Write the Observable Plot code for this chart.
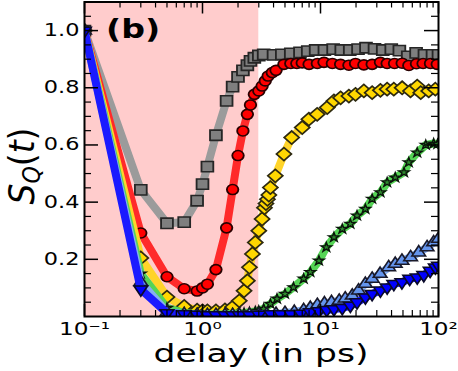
<!DOCTYPE html>
<html><head><meta charset="utf-8">
<script src="https://cdn.jsdelivr.net/npm/d3@7"></script>
<script src="https://cdn.jsdelivr.net/npm/@observablehq/plot@0.6"></script>
<style>html,body{margin:0;padding:0;background:#fff}svg{display:block}</style>
</head><body><div id="chart"></div>
<script>
// ---------- data ----------
const grayDelay = [0.1, 0.3, 0.5, 0.7, 0.9, 1.0, 1.1, 1.3, 1.6, 1.8, 2.0, 2.2, 2.4, 2.55, 2.75, 3.0, 3.3, 4.0, 4.7, 5.6, 6.7, 7.8, 9.1, 10.8, 12.8, 15.0, 17.7, 20.8, 24.3, 28.7, 33.7, 39.8, 46.6, 54.9, 64.6, 76, 89, 100];
const grayS     = [1.0, 0.443, 0.326, 0.33, 0.405, 0.463, 0.524, 0.634, 0.754, 0.804, 0.838, 0.861, 0.879, 0.894, 0.905, 0.913, 0.917, 0.915, 0.917, 0.92, 0.924, 0.928, 0.932, 0.932, 0.935, 0.932, 0.932, 0.935, 0.94, 0.936, 0.932, 0.935, 0.93, 0.91, 0.922, 0.915, 0.915, 0.915];

const redDelay = [0.1, 0.3, 0.5, 0.7, 0.9, 1.0, 1.1, 1.3, 1.6, 1.8, 2.0, 2.2, 2.4, 2.55, 2.75, 3.0, 3.2, 3.4, 3.6, 3.9, 4.2, 4.9, 5.6, 6.3, 7.0, 8.0, 9.4, 10.7, 12.6, 14.8, 17.4, 19.8, 23.3, 27.4, 32.2, 36.7, 42.4, 49.2, 56, 65, 74, 85.5, 97.5];
const redS     = [1.0, 0.292, 0.139, 0.097, 0.089, 0.1, 0.113, 0.164, 0.31, 0.444, 0.563, 0.649, 0.707, 0.74, 0.777, 0.789, 0.806, 0.824, 0.841, 0.853, 0.861, 0.882, 0.885, 0.885, 0.887, 0.882, 0.885, 0.889, 0.885, 0.882, 0.879, 0.885, 0.88, 0.882, 0.889, 0.885, 0.885, 0.886, 0.878, 0.884, 0.885, 0.885, 0.882];

const yellowDelay = [0.1, 0.3, 0.5, 0.7, 0.9, 1.0, 1.1, 1.3, 1.55, 1.8, 2.05, 2.25, 2.4, 2.5, 2.65, 2.8, 3.0, 3.2, 3.35, 3.45, 3.55, 3.65, 3.76, 4.14, 4.9, 5.7, 7.0, 7.97, 9.37, 11.4, 13.0, 14.8, 17.4, 19.8, 23.3, 27.4, 32.2, 36.7, 41.8, 49.2, 57.9, 66, 70.7, 82.6, 94];
const yellowS     = [1.0, 0.205, 0.068, 0.035, 0.022, 0.02, 0.02, 0.02, 0.023, 0.033, 0.055, 0.09, 0.125, 0.172, 0.219, 0.259, 0.30, 0.341, 0.38, 0.395, 0.41, 0.425, 0.451, 0.492, 0.568, 0.626, 0.661, 0.69, 0.707, 0.731, 0.754, 0.765, 0.771, 0.777, 0.789, 0.783, 0.791, 0.795, 0.795, 0.80, 0.789, 0.806, 0.783, 0.789, 0.795];

const greenDelay = [0.1, 0.3, 0.5, 0.7, 0.9, 1.0, 1.1, 1.3, 1.55, 1.8, 2.05, 2.25, 2.5, 2.8, 3.0, 3.3, 3.76, 4.28, 5.0, 5.9, 7.2, 8.2, 9.7, 11.2, 13.0, 15.3, 17.9, 20.4, 24, 27.4, 32.2, 36.7, 43, 51, 56, 66, 78, 91, 98];
const greenS     = [1.0, 0.15, 0.03, 0.012, 0.008, 0.007, 0.007, 0.007, 0.008, 0.01, 0.011, 0.012, 0.015, 0.018, 0.02, 0.027, 0.044, 0.062, 0.079, 0.102, 0.132, 0.155, 0.195, 0.242, 0.277, 0.306, 0.324, 0.353, 0.376, 0.411, 0.434, 0.469, 0.486, 0.504, 0.539, 0.573, 0.60, 0.605, 0.603];

const lightBlueDelay = [0.1, 0.3, 0.5, 0.7, 0.9, 1.1, 1.3, 1.55, 1.8, 2.05, 2.5, 3.0, 3.5, 4.2, 5.0, 6.0, 7.2, 8.2, 9.4, 10.8, 12.4, 14.4, 16.2, 18.6, 21, 24, 27.4, 32, 37.8, 43, 49, 58, 68, 80, 91, 100];
const lightBlueS     = [1.0, 0.12, 0.015, 0.008, 0.006, 0.005, 0.005, 0.005, 0.005, 0.005, 0.006, 0.006, 0.007, 0.009, 0.012, 0.016, 0.022, 0.03, 0.04, 0.046, 0.05, 0.055, 0.063, 0.073, 0.091, 0.114, 0.132, 0.149, 0.172, 0.184, 0.195, 0.207, 0.224, 0.242, 0.259, 0.272];

const blueDelay = [0.1, 0.3, 0.5, 0.7, 0.9, 1.1, 1.3, 1.55, 1.8, 2.05, 2.5, 3.0, 3.8, 4.6, 5.6, 6.8, 8.2, 9.7, 11.3, 13, 15.3, 17.9, 20.4, 24, 27.4, 32.2, 36.7, 41.8, 49, 57, 66, 75, 85, 94, 100];
const blueS     = [1.0, 0.095, 0.012, 0.008, 0.006, 0.005, 0.005, 0.005, 0.005, 0.005, 0.005, 0.006, 0.008, 0.008, 0.008, 0.01, 0.015, 0.019, 0.023, 0.026, 0.03, 0.038, 0.05, 0.067, 0.079, 0.091, 0.102, 0.114, 0.12, 0.132, 0.137, 0.145, 0.16, 0.172, 0.178];

const shadeStart = [0.1];
const shadeEnd = [3.0];

const xTickValues = [0.1, 1, 10, 100];
const xTickLabels = ["10⁻¹", "10⁰", "10¹", "10²"];
const xMinorValues = [0.2, 0.3, 0.4, 0.5, 0.6, 0.7, 0.8, 0.9, 2, 3, 4, 5, 6, 7, 8, 9, 20, 30, 40, 50, 60, 70, 80, 90];
const yTickValues = [0.2, 0.4, 0.6, 0.8, 1.0];
const yTickLabels = ["0.2", "0.4", "0.6", "0.8", "1.0"];
const yMinorValues = [0.05, 0.1, 0.15, 0.25, 0.3, 0.35, 0.45, 0.5, 0.55, 0.65, 0.7, 0.75, 0.85, 0.9, 0.95, 1.05];

const xLabel = "delay (in ps)";
const panelLabel = "(b)";

// ---------- layout ----------
const W = 458, H = 371;
const mL = 84, mR = 20, mT = 1.5, mB = 55;
const plotW = W - mL - mR, plotH = H - mT - mB;

const toRows = (t, v) => t.map((d, i) => ({t: d, v: v[i]}));
const series = [
  {rows: toRows(grayDelay, grayS), line: "#9b9b9b", fill: "#7f7f7f", stroke: "#262626", symbol: "square", r: 5.8, rotate: 0, sw: 1.6},
  {rows: toRows(redDelay, redS), line: "#ff2a2a", fill: "#ff0000", stroke: "#2a0000", symbol: "circle", r: 5.0, rotate: 0, sw: 1.6},
  {rows: toRows(yellowDelay, yellowS), line: "#ffd42a", fill: "#ffd700", stroke: "#2e2a10", symbol: "square", r: 5.2, rotate: 45, sw: 1.6},
  {rows: toRows(greenDelay, greenS), line: "#55d455", fill: "#2e8b2e", stroke: "#0a140a", symbol: "star", r: 2.9, rotate: 0, sw: 1.3},
  {rows: toRows(lightBlueDelay, lightBlueS), line: "#86aef2", fill: "#6495ed", stroke: "#1a1a2a", symbol: "triangle", r: 4.4, rotate: 0, sw: 1.5},
  {rows: toRows(blueDelay, blueS), line: "#1a1aff", fill: "#0000ff", stroke: "#0a0a2a", symbol: "triangle", r: 4.4, rotate: 180, sw: 1.5}
];

const marks = [
  Plot.rect(shadeStart.map((s, i) => ({x1: s, x2: shadeEnd[i]})), {x1: "x1", x2: "x2", y1: 0, y2: 1.1, fill: "#ffcccc"})
];
for (const s of series) {
  marks.push(Plot.line(s.rows, {x: "t", y: "v", stroke: s.line, strokeWidth: 8, strokeLinejoin: "round", strokeLinecap: "round", clip: true}));
  marks.push(Plot.dot(s.rows, {x: "t", y: "v", symbol: s.symbol, r: s.r, rotate: s.rotate, fill: s.fill, stroke: s.stroke, strokeWidth: s.sw, clip: true}));
}
const tickCol = "black";
marks.push(
  Plot.tickX(xTickValues, {x: d => d, insetTop: plotH - 12, stroke: tickCol, strokeWidth: 1.5}),
  Plot.tickX(xTickValues, {x: d => d, insetBottom: plotH - 12, stroke: tickCol, strokeWidth: 1.5}),
  Plot.tickX(xMinorValues, {x: d => d, insetTop: plotH - 6, stroke: tickCol, strokeWidth: 1.2}),
  Plot.tickX(xMinorValues, {x: d => d, insetBottom: plotH - 6, stroke: tickCol, strokeWidth: 1.2}),
  Plot.tickY(yTickValues, {y: d => d, insetRight: plotW - 14, stroke: tickCol, strokeWidth: 1.5}),
  Plot.tickY(yTickValues, {y: d => d, insetLeft: plotW - 14, stroke: tickCol, strokeWidth: 1.5}),
  Plot.tickY(yMinorValues, {y: d => d, insetRight: plotW - 7, stroke: tickCol, strokeWidth: 1.2}),
  Plot.tickY(yMinorValues, {y: d => d, insetLeft: plotW - 7, stroke: tickCol, strokeWidth: 1.2}),
  Plot.frame({stroke: "black", strokeWidth: 2}),
  Plot.axisX({ticks: xTickValues, tickFormat: d => xTickLabels[xTickValues.indexOf(d)], tickSize: 0, tickPadding: 6, label: null, fontSize: 17}),
  Plot.axisY({ticks: yTickValues, tickFormat: d => yTickLabels[yTickValues.indexOf(d)], tickSize: 0, tickPadding: 5, label: null, fontSize: 17})
);

const plot = Plot.plot({
  width: W, height: H,
  marginLeft: mL, marginRight: mR, marginTop: mT, marginBottom: mB,
  style: {fontFamily: "DejaVu Sans", fontSize: "17px", background: "white", color: "black"},
  x: {type: "log", domain: [0.1, 100]},
  y: {domain: [0, 1.1]},
  marks
});
document.getElementById("chart").appendChild(plot);

// ---------- post-processing: horizontal stretch of text & markers ----------
const svg = d3.select(plot);
function stretch(sel, sx) {
  sel.each(function () {
    const t = this.getAttribute("transform");
    if (t && /^\s*translate\([^)]*\)/.test(t)) {
      this.setAttribute("transform", t.replace(/^\s*(translate\([^)]*\))/, `$1 scale(${sx},1)`));
    } else {
      const x = +(this.getAttribute(this.tagName === "circle" ? "cx" : "x") || 0);
      const y = +(this.getAttribute(this.tagName === "circle" ? "cy" : "y") || 0);
      this.setAttribute("transform", `translate(${x},${y}) scale(${sx},1) translate(${-x},${-y})` + (t ? " " + t : ""));
    }
  });
}
stretch(svg.selectAll('g[aria-label="x-axis tick label"] text'), 1.36);
stretch(svg.selectAll('g[aria-label="y-axis tick label"] text'), 1.32);
stretch(svg.selectAll('g[aria-label="dot"] path, g[aria-label="dot"] circle'), 1.15);

// axis titles and panel label
svg.append("text")
  .attr("text-anchor", "middle").attr("font-family", "DejaVu Sans").attr("font-size", 24)
  .attr("fill", "black")
  .attr("transform", `translate(${mL + plotW / 2},362) scale(1.44,1)`)
  .text(xLabel);

const yl = svg.append("text")
  .attr("text-anchor", "middle").attr("font-family", "DejaVu Sans").attr("font-size", 33)
  .attr("fill", "black")
  .attr("transform", "translate(34,166) rotate(-90) scale(1,1.1)");
yl.append("tspan").attr("font-style", "italic").text("S");
yl.append("tspan").attr("font-style", "italic").attr("font-size", 22).attr("dy", 5).text("Q");
yl.append("tspan").attr("dy", -5).text("(");
yl.append("tspan").attr("font-style", "italic").text("t");
yl.append("tspan").text(")");

svg.append("text")
  .attr("text-anchor", "start")
  .attr("font-family", "DejaVu Sans").attr("font-weight", "bold").attr("font-size", 27)
  .attr("fill", "black")
  .attr("transform", "translate(106,37.5) scale(1.23,1)")
  .text(panelLabel);
</script>
</body></html>
